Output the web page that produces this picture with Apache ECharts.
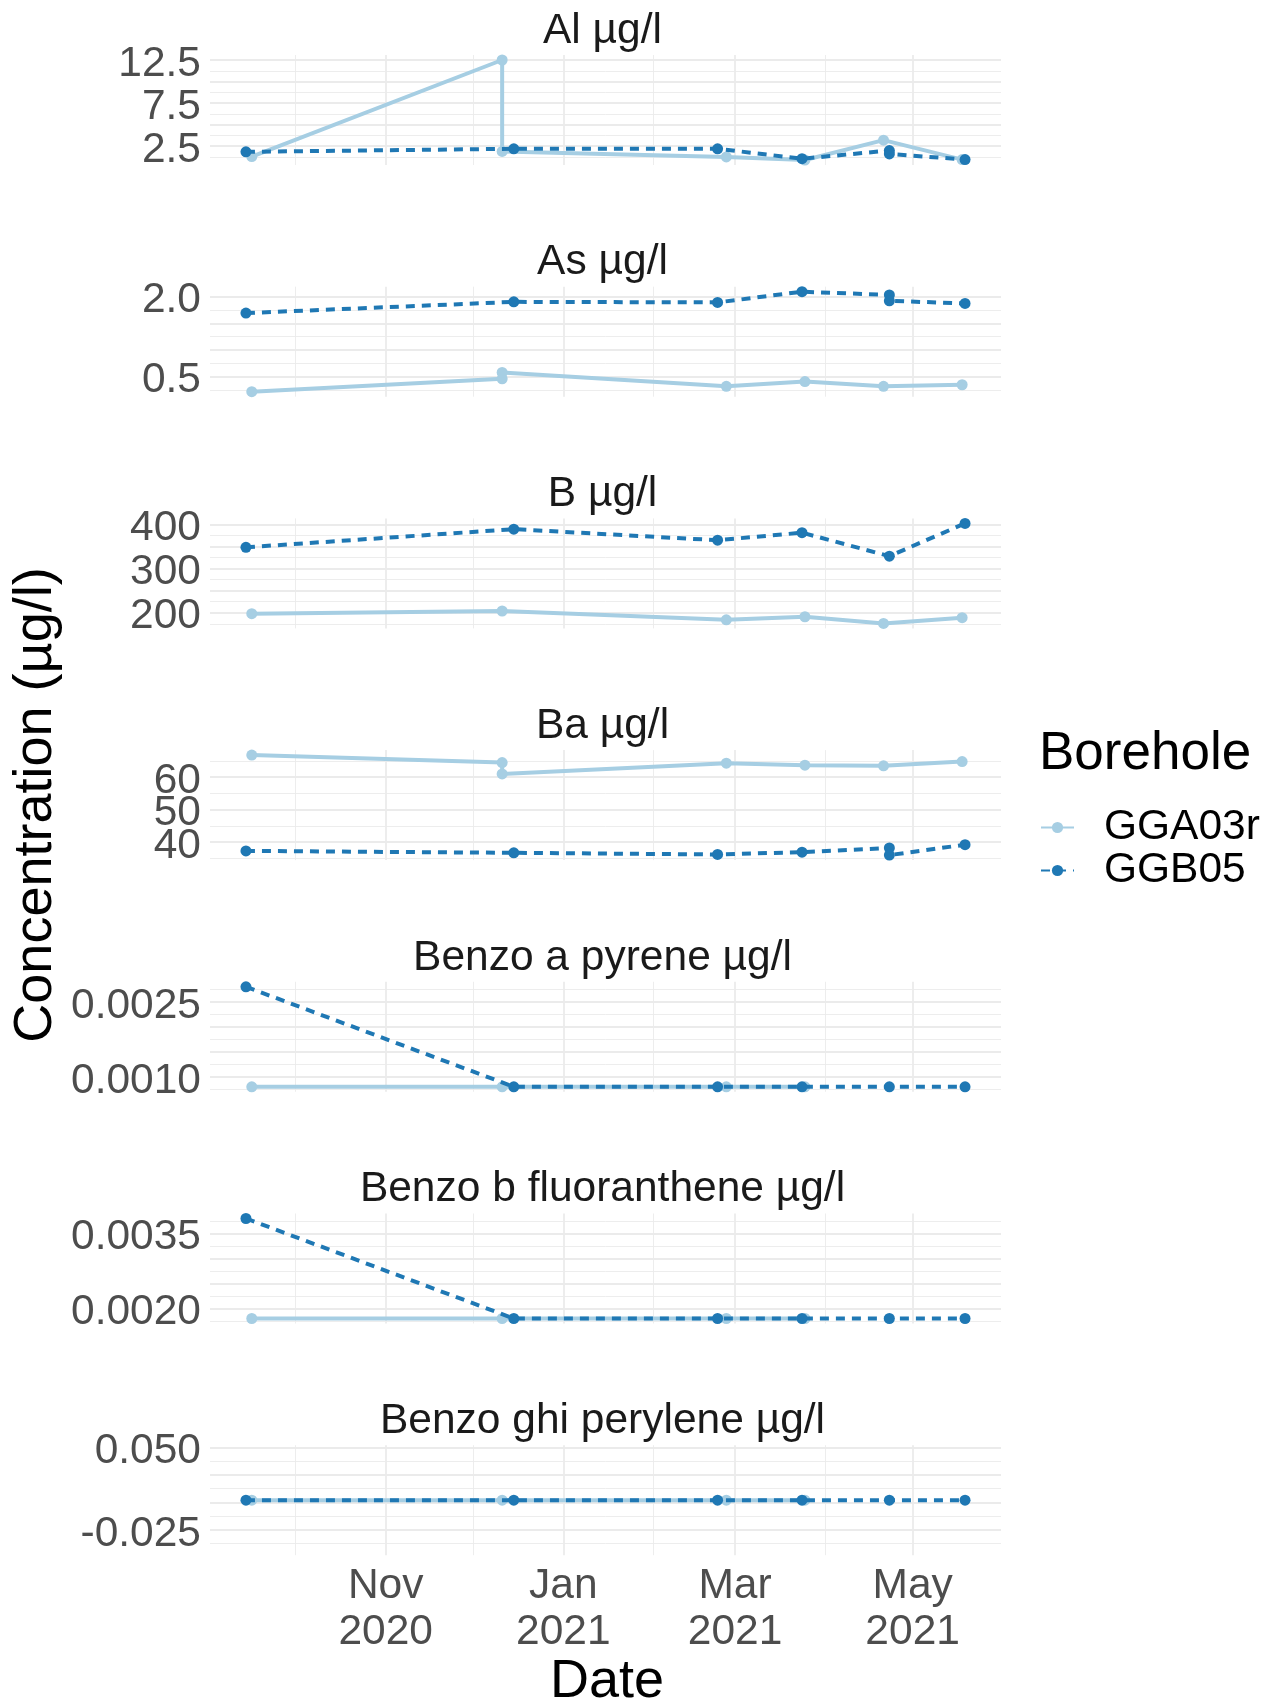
<!DOCTYPE html>
<html><head><meta charset="utf-8">
<script src="https://cdn.jsdelivr.net/npm/echarts@6/dist/echarts.min.js"></script>
<style>html,body{margin:0;padding:0;background:#fff}#c{width:1277px;height:1703px}</style>
</head><body><div id="c"></div>
<script>
// ---- sampling dates per borehole ----
const datesGGA03r = ['2020-09-16','2020-12-11','2021-02-26','2021-03-25','2021-04-21','2021-05-18'];
const datesGGB05  = ['2020-09-14','2020-12-15','2021-02-23','2021-03-24','2021-04-23','2021-05-19'];

const panelTitles = ['Al µg/l','As µg/l','B µg/l','Ba µg/l','Benzo a pyrene µg/l','Benzo b fluoranthene µg/l','Benzo ghi perylene µg/l'];

// values (a nested pair = two samples on the same date, null = no sample)
const alGGA03r   = [1.3, [12.5, 1.9], 1.25, 0.9, 3.2, 0.95];
const alGGB05    = [1.85, 2.2, 2.2, 1.05, [2.0, 1.6], 0.95];
const asGGA03r   = [0.22, [0.46, 0.58], 0.32, 0.41, 0.32, 0.35];
const asGGB05    = [1.69, 1.90, 1.89, 2.09, [2.03, 1.92], 1.87];
const bGGA03r    = [198, 204, 184, 191, 176, 189];
const bGGB05     = [348, 389, 364, 381, 328, 402];
const baGGA03r   = [66.8, [64.5, 61.0], 64.3, 63.7, 63.5, 64.8];
const baGGB05    = [37.3, 36.7, 36.2, 36.9, [38.2, 36.0], 39.2];
const bapGGA03r  = [0.0008, 0.0008, 0.0008, 0.0008, null, null];
const bapGGB05   = [0.0028, 0.0008, 0.0008, 0.0008, 0.0008, 0.0008];
const bbfGGA03r  = [0.0018, 0.0018, 0.0018, 0.0018, null, null];
const bbfGGB05   = [0.0038, 0.0018, 0.0018, 0.0018, 0.0018, 0.0018];
const bghiGGA03r = [0.002, 0.002, 0.002, 0.002, null, null];
const bghiGGB05  = [0.002, 0.002, 0.002, 0.002, 0.002, 0.002];

// ---- tick labels ----
const alLabels   = ['2.5','7.5','12.5'];
const asLabels   = ['0.5','2.0'];
const bLabels    = ['200','300','400'];
const baLabels   = ['40','50','60'];
const bapLabels  = ['0.0010','0.0025'];
const bbfLabels  = ['0.0020','0.0035'];
const bghiLabels = ['-0.025','0.050'];
const breakSteps = [2.5, 0.5, 50, 10, 0.0005, 0.0005, 0.025];

const xMajorTicks  = ['2020-11-01','2021-01-01','2021-03-01','2021-05-01'];
const xMajorLabels = ['Nov\n2020','Jan\n2021','Mar\n2021','May\n2021'];
const xMinorTicks  = ['2020-10-01','2020-12-01','2021-02-01','2021-04-01'];

// ---- build ----
const FONT = 'Liberation Sans, Arial, Helvetica, sans-serif';
const ts = s => Date.parse(s + 'T00:00:00Z');
const seriesA = [alGGA03r, asGGA03r, bGGA03r, baGGA03r, bapGGA03r, bbfGGA03r, bghiGGA03r];
const seriesB = [alGGB05, asGGB05, bGGB05, baGGB05, bapGGB05, bbfGGB05, bghiGGB05];
const labelSets = [alLabels, asLabels, bLabels, baLabels, bapLabels, bbfLabels, bghiLabels];

function flatten(dates, vals) {
  const out = [];
  vals.forEach((v, i) => {
    if (v == null) return;
    if (Array.isArray(v)) v.forEach(w => out.push([ts(dates[i]), w]));
    else out.push([ts(dates[i]), v]);
  });
  return out;
}
const r10 = v => Math.round(v * 1e10) / 1e10;

const allDates = datesGGA03r.concat(datesGGB05).map(ts);
const dMin = Math.min(...allDates), dMax = Math.max(...allDates);
const xMin = dMin - 0.05 * (dMax - dMin), xMax = dMax + 0.05 * (dMax - dMin);
const xMajor = xMajorTicks.map(ts), xMinor = xMinorTicks.map(ts);

const LEFT = 210, PW = 791, TOP0 = 55, PITCH = 231.7, PH = 110;
const grids = [], xAxes = [], yAxes = [], series = [], graphics = [];
const GRID_COL = '#EBEBEB';
const TICK_FS = 42.5;

function nearestLabel(v, vals, labs) {
  let best = 0;
  vals.forEach((t, j) => { if (Math.abs(t - v) < Math.abs(vals[best] - v)) best = j; });
  return labs[best];
}
function yLabelStyle(customValues, labVals, labs) {
  return {
    show: customValues.length > 0, customValues: customValues,
    fontSize: TICK_FS, lineHeight: 8, verticalAlign: 'top',
    color: '#4D4D4D', fontFamily: FONT, margin: 9,
    hideOverlap: false, showMinLabel: true, showMaxLabel: true,
    formatter: v => nearestLabel(v, labVals, labs)
  };
}

for (let i = 0; i < 7; i++) {
  const top = TOP0 + i * PITCH;
  grids.push({ left: LEFT, top: top, width: PW, height: PH, containLabel: false });

  const dA = flatten(datesGGA03r, seriesA[i]);
  const dB = flatten(datesGGB05, seriesB[i]);
  const vals = dA.concat(dB).map(p => p[1]);
  const lo = Math.min(...vals), hi = Math.max(...vals);
  let yMin, yMax;
  if (hi - lo === 0) { yMin = lo - 0.05; yMax = hi + 0.05; }
  else { yMin = lo - 0.05 * (hi - lo); yMax = hi + 0.05 * (hi - lo); }

  const step = breakSteps[i];
  const majors = [], minors = [];
  for (let k = Math.ceil(yMin / step); k <= Math.floor(yMax / step); k++) majors.push(r10(k * step));
  for (let k = Math.ceil(yMin / (step / 2)); k <= Math.floor(yMax / (step / 2)); k++) if (Math.abs(k) % 2 === 1) minors.push(r10(k * step / 2));
  const labs = labelSets[i];
  const labVals = labs.map(Number);
  // alternate labels over the two stacked y axes so the library doesn't drop close ones
  const labEven = labVals.filter((_, j) => j % 2 === 0);
  const labOdd = labVals.filter((_, j) => j % 2 === 1);

  xAxes.push({
    type: 'value', gridIndex: i, min: xMin, max: xMax, scale: true,
    axisLine: { show: false }, axisTick: { show: false, customValues: xMajor },
    axisLabel: {
      show: i === 6, customValues: xMajor, fontSize: TICK_FS, lineHeight: 46, color: '#4D4D4D',
      fontFamily: FONT, margin: 8, hideOverlap: false, showMinLabel: true, showMaxLabel: true,
      formatter: v => nearestLabel(v, xMajor, xMajorLabels)
    },
    splitLine: { show: true, lineStyle: { color: GRID_COL, width: 1.8 } }
  });
  xAxes.push({
    type: 'value', gridIndex: i, min: xMin, max: xMax, scale: true,
    axisLine: { show: false }, axisTick: { show: false, customValues: xMinor },
    axisLabel: { show: false },
    splitLine: { show: true, lineStyle: { color: GRID_COL, width: 0.9 } }
  });
  yAxes.push({
    type: 'value', gridIndex: i, min: yMin, max: yMax, scale: true,
    axisLine: { show: false }, axisTick: { show: false, customValues: majors },
    axisLabel: yLabelStyle(labEven, labVals, labs),
    splitLine: { show: true, lineStyle: { color: GRID_COL, width: 1.8 } }
  });
  yAxes.push({
    type: 'value', gridIndex: i, min: yMin, max: yMax, scale: true, position: 'left',
    axisLine: { show: false }, axisTick: { show: false, customValues: minors },
    axisLabel: labOdd.length ? yLabelStyle(labOdd, labVals, labs) : { show: false },
    splitLine: { show: true, lineStyle: { color: GRID_COL, width: 0.9 } }
  });

  series.push({
    name: 'GGA03r', type: 'line', xAxisIndex: 2 * i, yAxisIndex: 2 * i, data: dA,
    symbol: 'circle', symbolSize: 11, showSymbol: true,
    lineStyle: { color: '#A6CEE3', width: 4 }, itemStyle: { color: '#A6CEE3' }, z: 3
  });
  series.push({
    name: 'GGB05', type: 'line', xAxisIndex: 2 * i, yAxisIndex: 2 * i, data: dB,
    symbol: 'circle', symbolSize: 11, showSymbol: true,
    lineStyle: { color: '#1F78B4', width: 4, type: [9, 7] }, itemStyle: { color: '#1F78B4' }, z: 4
  });

  graphics.push({
    type: 'text', x: LEFT + PW / 2 - 3, y: top - 24,
    style: { text: panelTitles[i], fontSize: 42.5, fontFamily: FONT, fill: '#1A1A1A', align: 'center', verticalAlign: 'middle' }
  });
}

graphics.push({
  type: 'text', x: 36, y: 805, rotation: Math.PI / 2,
  style: { text: 'Concentration (µg/l)', fontSize: 54, fontFamily: FONT, fill: '#000', align: 'center', verticalAlign: 'middle' }
});
graphics.push({
  type: 'text', x: 607, y: 1682,
  style: { text: 'Date', fontSize: 54, fontFamily: FONT, fill: '#000', align: 'center', verticalAlign: 'middle' }
});
graphics.push({
  type: 'text', x: 1039, y: 754,
  style: { text: 'Borehole', fontSize: 53, fontFamily: FONT, fill: '#000', align: 'left', verticalAlign: 'middle' }
});

const chart = echarts.init(document.getElementById('c'), null, { renderer: 'canvas' });
chart.setOption({
  backgroundColor: '#FFFFFF',
  animation: false,
  grid: grids,
  xAxis: xAxes,
  yAxis: yAxes,
  series: series,
  legend: {
    data: ['GGA03r', 'GGB05'], orient: 'vertical', left: 1035, top: 801,
    itemWidth: 33, itemHeight: 14, itemGap: 0, selectedMode: false,
    textStyle: { fontSize: 42.5, fontFamily: FONT, color: '#000', lineHeight: 39.5, padding: [0, 0, 0, 25] }
  },
  graphic: graphics
});
</script>
</body></html>
